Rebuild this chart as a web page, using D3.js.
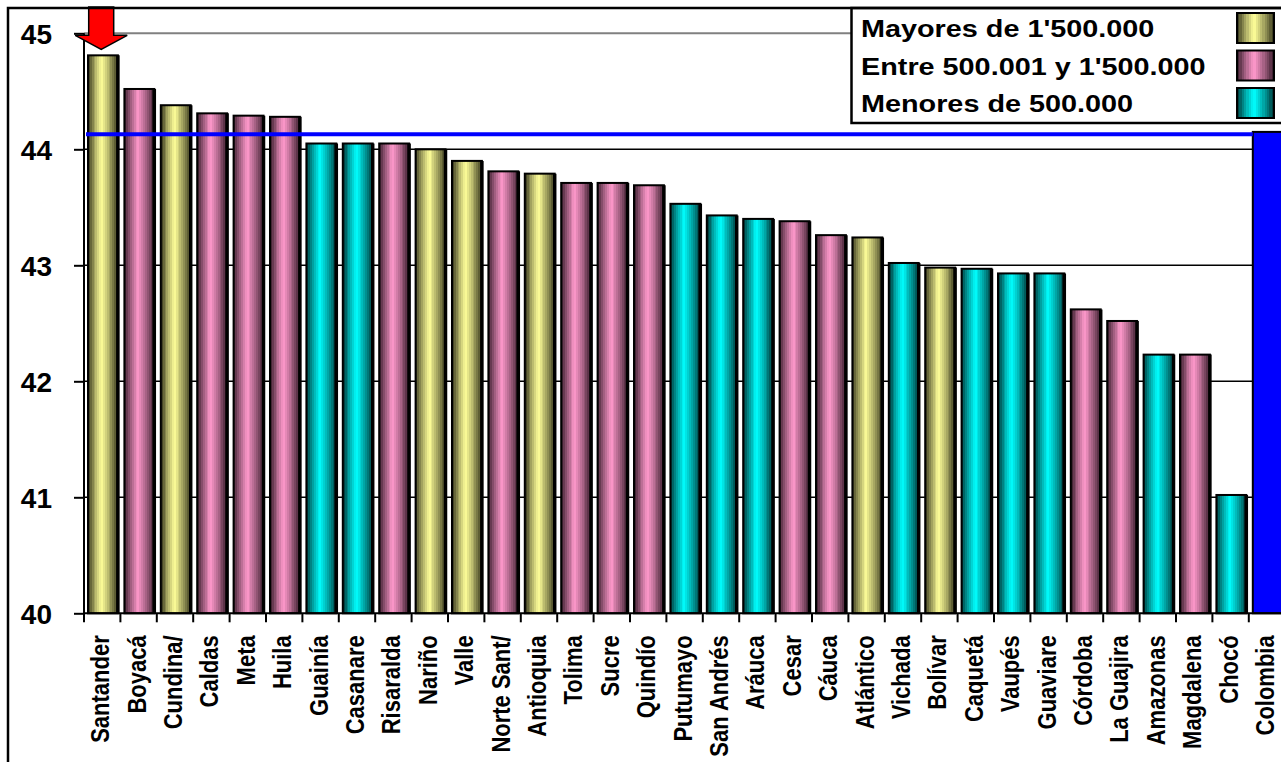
<!DOCTYPE html>
<html>
<head>
<meta charset="utf-8">
<script src="https://cdn.jsdelivr.net/npm/d3@7"></script>
<style>
  html, body { margin: 0; padding: 0; background: #fff; overflow: hidden; }
  svg { display: block; font-family: "Liberation Sans", Arial, sans-serif; }
</style>
</head>
<body>
<svg id="chart" width="1281" height="762"></svg>
<script>
// departamentos, ordered as in the chart
var categories = ["Santander", "Boyacá", "Cundina/", "Caldas", "Meta", "Huila", "Guainía",
    "Casanare", "Risaralda", "Nariño", "Valle", "Norte Sant/", "Antioquia", "Tolima", "Sucre",
    "Quindío", "Putumayo", "San Andrés", "Aráuca", "Cesar", "Cáuca", "Atlántico", "Vichada",
    "Bolívar", "Caquetá", "Vaupés", "Guaviare", "Córdoba", "La Guajira", "Amazonas",
    "Magdalena", "Chocó", "Colombia"];

var values = [44.81, 44.52, 44.38, 44.31, 44.29, 44.28, 44.05,
    44.05, 44.05, 44.00, 43.90, 43.81, 43.79, 43.71, 43.71,
    43.69, 43.53, 43.43, 43.40, 43.38, 43.26, 43.24, 43.02,
    42.98, 42.97, 42.93, 42.93, 42.62, 42.52, 42.23,
    42.23, 41.02, 44.15];

// population group of each departamento (may / ent / men), national total = col
var groups = ["may", "ent", "may", "ent", "ent", "ent", "men",
    "men", "ent", "may", "may", "ent", "may", "ent", "ent",
    "ent", "men", "men", "men", "ent", "ent", "may", "men",
    "may", "men", "men", "men", "ent", "ent", "men",
    "ent", "men", "col"];

var legendKeys = ["may", "ent", "men"];
var legendLabels = ["Mayores de 1'500.000", "Entre 500.001 y 1'500.000", "Menores de 500.000"];

var yTicks = [40, 41, 42, 43, 44, 45];
var nationalLine = 44.13;
var highlighted = "Santander";

var dataset = categories.map(function(c, i) {
    return { name: c, value: values[i], group: groups[i] };
});

var svg = d3.select("#chart");
var defs = svg.append("defs");

// Excel style banded cylinder fill
var shades = {
    may: ["#2a2a14", "#ffff99"],
    ent: ["#2a1420", "#ff99cc"],
    men: ["#002828", "#00ffff"]
};

function addGradient(id, dark, light) {
    var g = defs.append("linearGradient")
        .attr("id", id)
        .attr("x1", 0).attr("x2", 1).attr("y1", 0).attr("y2", 0);
    var n = 16;
    for (var i = 0; i < n; i++) {
        var t0 = i / n, t1 = (i + 1) / n, tm = (t0 + t1) / 2;
        var f = tm < 0.45 ? tm / 0.45 : (1 - tm) / 0.55;
        var c = d3.interpolateRgb(dark, light)(Math.pow(Math.max(0, f), 0.8));
        g.append("stop").attr("offset", t0).attr("stop-color", c);
        g.append("stop").attr("offset", t1).attr("stop-color", c);
    }
}
Object.keys(shades).forEach(function(k) {
    addGradient("grad_" + k, shades[k][0], shades[k][1]);
});

function fillFor(group) {
    return group == "col" ? "#0000ff" : "url(#grad_" + group + ")";
}

/******** SCALES ************/
var left = 84, step = 36.4;
var xScale = d3.scaleBand()
    .domain(categories)
    .range([left, left + step * categories.length])
    .padding(0);

var yScale = d3.scaleLinear()
    .domain([40, 45])
    .range([613.3, 33.3]);

var plotRight = xScale.range()[1];

/******** GRID ************/
svg.append("g").attr("class", "grid")
    .selectAll("line")
    .data(yTicks.filter(function(t) { return t > 40; }))
    .enter()
    .append("line")
    .attr("x1", left)
    .attr("x2", plotRight)
    .attr("y1", function(d) { return yScale(d); })
    .attr("y2", function(d) { return yScale(d); })
    .style("stroke", function(d) { return d == 45 ? "#808080" : "#000"; })
    .style("stroke-width", function(d) { return d == 45 ? 2 : 1.5; });

/******** BARS ************/
var barOffset = 4, barWidth = step - 6.5;
var bars = svg.append("g").attr("class", "bars")
    .selectAll("g")
    .data(dataset)
    .enter()
    .append("g");

bars.append("rect")
    .attr("x", function(d) { return xScale(d.name) + barOffset; })
    .attr("y", function(d) { return yScale(d.value); })
    .attr("width", barWidth)
    .attr("height", function(d) { return yScale(40) - yScale(d.value); })
    .style("fill", function(d) { return fillFor(d.group); })
    .style("stroke", "#000")
    .style("stroke-width", 2);

// heavier right edge, like the original shading
bars.append("line")
    .attr("x1", function(d) { return xScale(d.name) + barOffset + barWidth; })
    .attr("x2", function(d) { return xScale(d.name) + barOffset + barWidth; })
    .attr("y1", function(d) { return yScale(d.value); })
    .attr("y2", yScale(40))
    .style("stroke", "#000")
    .style("stroke-width", 3.5);

// national average line
var lastBar = xScale(categories[categories.length - 1]) + barOffset;
svg.append("line")
    .attr("x1", left + 2)
    .attr("x2", lastBar)
    .attr("y1", yScale(nationalLine))
    .attr("y2", yScale(nationalLine))
    .style("stroke", "#0000ff")
    .style("stroke-width", 4);

/******** AXES ************/
var yAxis = svg.append("g")
    .attr("transform", "translate(" + left + ",0)")
    .call(d3.axisLeft(yScale).tickValues(yTicks).tickSize(10).tickPadding(22).tickFormat(d3.format("d")));
yAxis.select(".domain").attr("d", "M0," + yScale(45) + "V" + yScale(40)).style("stroke-width", 2);
yAxis.selectAll(".tick line").style("stroke-width", 2);
yAxis.selectAll(".tick text")
    .attr("font-size", 28)
    .attr("font-weight", "bold")
    .attr("font-family", "'Liberation Sans', Arial, sans-serif")
    .attr("fill", "#000")
    .attr("dy", "0.36em");

// x axis baseline and boundary ticks
svg.append("line")
    .attr("x1", left).attr("x2", plotRight)
    .attr("y1", yScale(40)).attr("y2", yScale(40))
    .style("stroke", "#000").style("stroke-width", 2);

svg.append("g").attr("class", "xticks")
    .selectAll("line")
    .data(categories)
    .enter()
    .append("line")
    .attr("x1", function(d) { return xScale(d); })
    .attr("x2", function(d) { return xScale(d); })
    .attr("y1", yScale(40))
    .attr("y2", yScale(40) + 9)
    .style("stroke", "#000").style("stroke-width", 2);

svg.append("g").attr("class", "xlabels")
    .selectAll("text")
    .data(categories)
    .enter()
    .append("text")
    .attr("transform", function(d) {
        var cx = xScale(d) + step / 2;
        return "translate(" + cx + "," + (yScale(40) + 22) + ") scale(1.18,1) rotate(-90)";
    })
    .attr("y", 6)
    .attr("text-anchor", "end")
    .attr("font-size", 22)
    .attr("font-weight", "bold")
    .text(function(d) { return d; });

/******** ARROW on the first departamento ************/
var ax = xScale(highlighted) + step / 2 - 1;
var tip = yScale(values[categories.indexOf(highlighted)]) - 6;
var arrow = d3.path();
arrow.moveTo(ax - 12.5, 7);
arrow.lineTo(ax + 12.5, 7);
arrow.lineTo(ax + 12.5, tip - 14);
arrow.lineTo(ax + 26, tip - 14);
arrow.lineTo(ax, tip);
arrow.lineTo(ax - 26, tip - 14);
arrow.lineTo(ax - 12.5, tip - 14);
arrow.closePath();
svg.append("path")
    .attr("d", arrow.toString())
    .style("fill", "#ff0000")
    .style("stroke", "#000")
    .style("stroke-width", 1.5);

/******** LEGEND ************/
var legend = svg.append("g").attr("class", "legend");
legend.append("rect")
    .attr("x", 851.5).attr("y", 8)
    .attr("width", 450).attr("height", 115)
    .style("fill", "#fff")
    .style("stroke", "#000")
    .style("stroke-width", 2.5);

var rows = legend.selectAll("g.row")
    .data(legendKeys)
    .enter()
    .append("g")
    .attr("class", "row")
    .attr("transform", function(d, i) { return "translate(0," + (i * 37.5) + ")"; });

rows.append("text")
    .attr("transform", "translate(861,37) scale(1.2,1)")
    .attr("font-size", 24)
    .attr("font-weight", "bold")
    .text(function(d, i) { return legendLabels[i]; });

rows.append("rect")
    .attr("x", 1237).attr("y", 13)
    .attr("width", 37).attr("height", 30)
    .style("fill", function(d) { return fillFor(d); })
    .style("stroke", "#000")
    .style("stroke-width", 2);

/******** OUTER FRAME ************/
svg.append("path")
    .attr("d", "M8,762V8H1281")
    .style("fill", "none")
    .style("stroke", "#000")
    .style("stroke-width", 2.5);
</script>
</body>
</html>
